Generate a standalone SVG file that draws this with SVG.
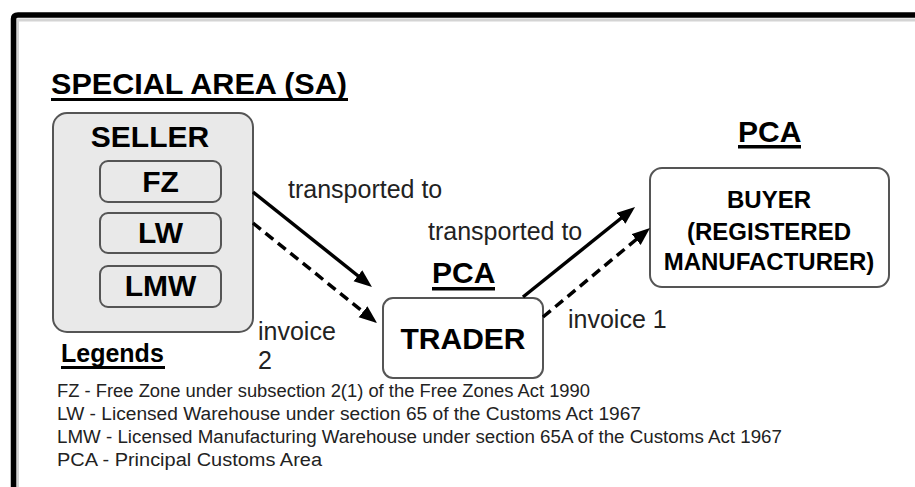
<svg xmlns="http://www.w3.org/2000/svg" width="915" height="487" viewBox="0 0 915 487">
<style>
  .bold { font-family: "Liberation Sans", Arial, sans-serif; font-weight: bold; fill: #000; }
  .reg { font-family: "Liberation Sans", Arial, sans-serif; fill: #222; }
  .box { stroke: #555; stroke-width: 2; }
  .arrow { stroke: #000; stroke-width: 3.5; fill: none; }
  .dash { stroke-dasharray: 10 6; }
</style>
<defs>
  <marker id="ah" markerUnits="userSpaceOnUse" markerWidth="20" markerHeight="16" refX="6" refY="7" orient="auto">
    <path d="M0,0 L18,7 L0,14 z" fill="#000"/>
  </marker>
</defs>
<rect width="915" height="487" fill="#fff"/>
<g id="frame">
  <path d="M17.5,490 L17.5,20 L920,20" fill="none" stroke="#d4d4d4" stroke-width="3"/>
  <path d="M13.5,490 L13.5,19 Q13.5,15 18,15 L920,15" fill="none" stroke="#000" stroke-width="5.5"/>
</g>
<g id="title">
  <text class="bold" x="51" y="94" font-size="30" textLength="296" lengthAdjust="spacingAndGlyphs">SPECIAL AREA (SA)</text>
  <rect x="51" y="98" width="297" height="3" fill="#000"/>
</g>
<g id="seller">
  <rect class="box" x="53" y="113" width="200" height="219" rx="14" fill="#e9e9e9"/>
  <text class="bold" x="150" y="147" font-size="30" text-anchor="middle">SELLER</text>
</g>
<g id="fz">
  <rect class="box" x="100" y="161" width="121" height="41" rx="8" fill="#e9e9e9" stroke-width="1.5"/>
  <text class="bold" x="160.5" y="192" font-size="30" text-anchor="middle">FZ</text>
</g>
<g id="lw">
  <rect class="box" x="100" y="213" width="121" height="40" rx="8" fill="#e9e9e9" stroke-width="1.5"/>
  <text class="bold" x="160.5" y="243" font-size="30" text-anchor="middle">LW</text>
</g>
<g id="lmw">
  <rect class="box" x="100" y="266" width="121" height="41" rx="8" fill="#e9e9e9" stroke-width="1.5"/>
  <text class="bold" x="160.5" y="296" font-size="30" text-anchor="middle">LMW</text>
</g>
<g id="trader">
  <text class="bold" x="432" y="283" font-size="30">PCA</text>
  <rect x="432" y="287" width="63" height="3.5" fill="#000"/>
  <rect class="box" x="383" y="298" width="160" height="80" rx="10" fill="#fff"/>
  <text class="bold" x="463" y="349" font-size="30" text-anchor="middle">TRADER</text>
</g>
<g id="buyer">
  <text class="bold" x="738" y="142" font-size="30">PCA</text>
  <rect x="738" y="145" width="63" height="3.5" fill="#000"/>
  <rect class="box" x="650" y="168" width="239" height="119" rx="12" fill="#fff"/>
  <text class="bold" x="769" y="208" font-size="24" text-anchor="middle">BUYER</text>
  <text class="bold" x="769" y="240" font-size="24" text-anchor="middle">(REGISTERED</text>
  <text class="bold" x="769" y="270" font-size="24" text-anchor="middle">MANUFACTURER)</text>
</g>
<g id="connectors">
  <line class="arrow" x1="253" y1="192" x2="362.6" y2="279.5" marker-end="url(#ah)"/>
  <line class="arrow dash" x1="253" y1="223" x2="367.7" y2="315.5" marker-end="url(#ah)"/>
  <line class="arrow" x1="523" y1="297" x2="625.7" y2="214.5" marker-end="url(#ah)"/>
  <line class="arrow dash" x1="543" y1="317" x2="640.8" y2="235.7" marker-end="url(#ah)"/>
  <text class="reg" x="288" y="198" font-size="25">transported to</text>
  <text class="reg" x="428" y="240" font-size="25">transported to</text>
  <text class="reg" x="258" y="340" font-size="25">invoice</text>
  <text class="reg" x="258" y="369" font-size="25">2</text>
  <text class="reg" x="568" y="328" font-size="25">invoice 1</text>
</g>
<g id="legend">
  <text class="bold" x="61" y="362" font-size="25">Legends</text>
  <rect x="61" y="366" width="104" height="3" fill="#000"/>
  <text class="reg" x="57" y="397" font-size="18" textLength="533" lengthAdjust="spacingAndGlyphs">FZ - Free Zone under subsection 2(1) of the Free Zones Act 1990</text>
  <text class="reg" x="57" y="420" font-size="18" textLength="584" lengthAdjust="spacingAndGlyphs">LW - Licensed Warehouse under section 65 of the Customs Act 1967</text>
  <text class="reg" x="57" y="443" font-size="18" textLength="725" lengthAdjust="spacingAndGlyphs">LMW - Licensed Manufacturing Warehouse under section 65A of the Customs Act 1967</text>
  <text class="reg" x="57" y="466" font-size="18" textLength="265" lengthAdjust="spacingAndGlyphs">PCA - Principal Customs Area</text>
</g>
</svg>
